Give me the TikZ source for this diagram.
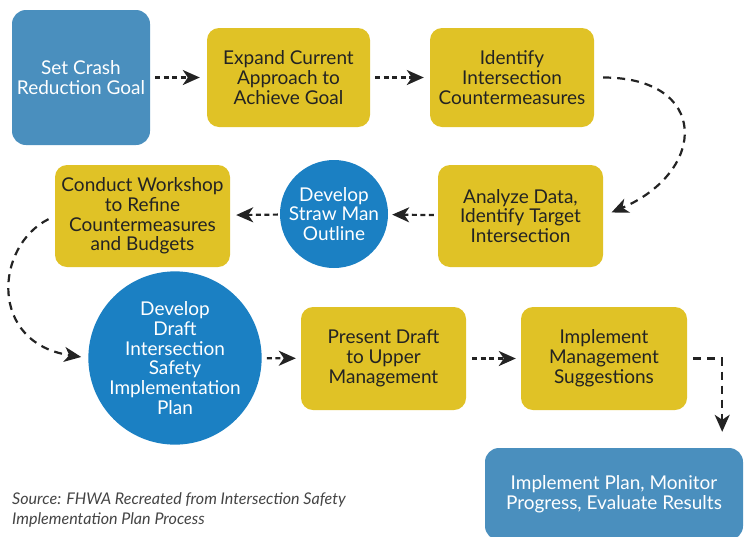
\documentclass[tikz,border=0pt]{standalone}
\usepackage{fontspec}
\setmainfont{Lato}
\usetikzlibrary{arrows.meta}
\definecolor{steel}{RGB}{74,143,190}
\definecolor{ocean}{RGB}{27,128,195}
\definecolor{mustard}{RGB}{224,194,38}
\definecolor{ink}{RGB}{35,35,35}
\begin{document}
\begin{tikzpicture}[x=1pt,y=-1pt,
        boxfont/.style={font=\fontsize{19}{19.8}\selectfont},
        stepblue/.style={boxfont,fill=steel,rounded corners=14pt,text=white,align=center,inner sep=0pt},
        stepyellow/.style={boxfont,fill=mustard,rounded corners=12pt,text=ink,align=center,inner sep=0pt},
        stepcircle/.style={boxfont,circle,fill=ocean,text=white,align=center,inner sep=0pt},
        flow/.style={ink,line width=2.2pt,dash pattern=on 5pt off 3.5pt,-{Stealth[length=17pt,width=15pt,inset=5pt]}},
        bigflow/.style={flow,dash pattern=on 8pt off 6pt}]
                \useasboundingbox (0,0) rectangle (749,536);
                \node[stepblue,minimum width=138pt,minimum height=135pt] (setgoal) at (81,77.5) {Set Crash\\Reduction Goal};
                \node[stepyellow,minimum width=163pt,minimum height=99pt] (expand) at (288.5,77.5) {Expand Current\\Approach to\\Achieve Goal};
                \node[stepyellow,minimum width=164pt,minimum height=99pt] (identify) at (512,77.5) {Identify\\Intersection\\Countermeasures};
                \node[stepyellow,minimum width=165pt,minimum height=102pt] (analyze) at (520.5,216) {Analyze Data,\\Identify Target\\Intersection};
                \node[stepcircle,minimum size=108pt] (strawman) at (334,214) {Develop\\Straw Man\\Outline};
                \node[stepyellow,minimum width=175pt,minimum height=102pt] (workshop) at (142.5,216) {Conduct Workshop\\to Refine\\Countermeasures\\and Budgets};
                \node[stepcircle,minimum size=156pt] (draft) at (175,358) {Develop\\Draft\\Intersection\\Safety\\Implementation\\Plan};
                \node[stepyellow,minimum width=165pt,minimum height=103pt] (present) at (383.5,358.5) {Present Draft\\to Upper\\Management};
                \node[stepyellow,minimum width=166pt,minimum height=103pt] (mgmt) at (604,358.5) {Implement\\Management\\Suggestions};
                \node[stepblue,minimum width=258pt,minimum height=92pt] (plan) at (614,494) {Implement Plan, Monitor\\Progress, Evaluate Results};
                \node[anchor=west,align=left,inner sep=0pt,text=ink!85,font=\itshape\fontsize{16.1}{20}\selectfont] (source) at (12,510) {Source: FHWA Recreated from Intersection Safety\\Implementation Plan Process};
                \draw[flow,shorten <=5pt,shorten >=7pt] (setgoal) -- (expand);
                \draw[flow,shorten <=5pt,shorten >=6pt] (expand) -- (identify);
                \draw[bigflow,shorten <=9pt,shorten >=9pt] (identify.east) .. controls +(115,0) and +(105,-45) .. (analyze.east);
                \draw[flow,shorten <=4pt,shorten >=4pt] (analyze) -- (strawman);
                \draw[flow,shorten <=2pt,shorten >=6pt] (strawman) -- (workshop);
                \draw[bigflow,shorten <=7pt,shorten >=7pt] (workshop.west) .. controls +(-60,30) and +(-100,-15) .. (draft.west);
                \draw[flow,shorten <=5pt,shorten >=5pt] (draft) -- (present);
                \draw[flow,shorten <=6pt,shorten >=5pt] (present) -- (mgmt);
                \draw[bigflow,shorten <=6pt,shorten >=16pt] (mgmt.east) -| ([xshift=-21pt]plan.north east);
            \end{tikzpicture}
\end{document}
